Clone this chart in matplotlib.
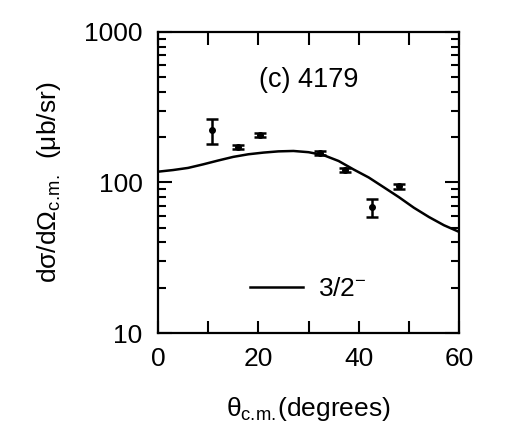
import matplotlib
matplotlib.use("Agg")
import matplotlib.pyplot as plt
from matplotlib.ticker import FixedLocator, NullFormatter, MultipleLocator

plt.rcParams["font.family"] = ["Liberation Sans", "DejaVu Sans"]
plt.rcParams["mathtext.fontset"] = "custom"
plt.rcParams["mathtext.rm"] = "Liberation Sans"
plt.rcParams["mathtext.it"] = "Liberation Sans"

# measured cross sections
theta = [10.7, 15.9, 20.3, 32.2, 37.3, 42.6, 48.1]
xsec = [222, 172, 207, 158, 121, 68.4, 94.5]
err_lo = [43, 5, 6, 5, 4, 9.6, 3.5]
err_hi = [44, 5, 6, 5, 4, 9.5, 3.5]

# calculated 3/2- curve
curve_theta = [0, 3, 6, 9, 12, 15, 18, 21, 24, 27, 30, 33, 36, 39, 42,
               45, 48, 51, 54, 57, 60]
curve_xsec = [118, 121, 125, 132, 140, 148, 154, 158, 161, 162, 159, 152,
              139, 122, 108, 93, 80, 68, 59, 52, 47]

FS = 19

fig = plt.figure(figsize=(5.09, 4.44), dpi=100)
ax = fig.add_axes([158 / 509, 1 - 333 / 444, 301 / 509, 301 / 444])

ax.errorbar(theta, xsec, yerr=[err_lo, err_hi], fmt="o", color="black",
            markersize=4, capsize=4.5, elinewidth=1.8, capthick=1.8)
ax.plot(curve_theta, curve_xsec, color="black", linewidth=1.8,
        label="3/2$^{-}$")

ax.set_yscale("log")
ax.set_xlim(0, 60)
ax.set_ylim(10, 1000)
ax.xaxis.set_major_locator(FixedLocator([0, 20, 40, 60]))
ax.xaxis.set_minor_locator(MultipleLocator(10))
ax.yaxis.set_major_locator(FixedLocator([10, 100, 1000]))
ax.set_yticklabels(["10", "100", "1000"])
ax.yaxis.set_minor_formatter(NullFormatter())

ax.tick_params(which="both", direction="in", top=True, right=True,
               width=1.5, labelsize=FS)
ax.tick_params(axis="y", which="both", pad=11)
ax.tick_params(axis="x", which="both", pad=10)
ax.tick_params(axis="y", which="major", length=10)
ax.tick_params(axis="y", which="minor", length=6)
ax.tick_params(axis="x", which="both", length=9)
for spine in ax.spines.values():
    spine.set_linewidth(1.6)

ax.text(30, 479, "(c) 4179", ha="center", va="center", fontsize=FS + 0.5)

ax.legend(loc="center", bbox_to_anchor=(0.5, 0.145), frameon=False,
          fontsize=FS, handlelength=2.0, handletextpad=0.55)

ax.set_xlabel(r"$\theta_{\mathrm{c.\!m.\!}}$(degrees)", fontsize=FS,
              labelpad=17)
ax.set_ylabel(r"d$\sigma$/d$\Omega_{\mathrm{c.\!m.\!}}$  ($\mu$b/sr)",
              fontsize=FS, labelpad=15)

fig.savefig("out.png", dpi=100)
